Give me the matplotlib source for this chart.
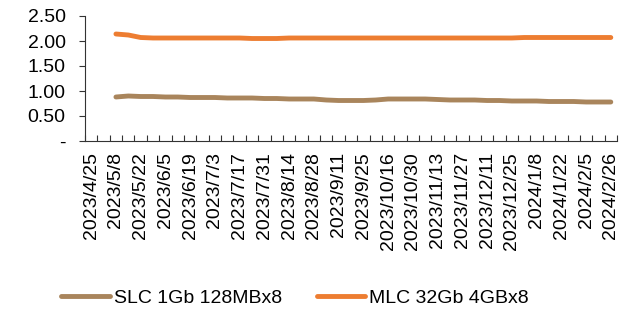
import numpy as np
import matplotlib.pyplot as plt
from matplotlib.ticker import FixedLocator, FuncFormatter

plt.rcParams['font.family'] = ['Liberation Sans', 'DejaVu Sans']

dates = ["2023/4/25", "2023/5/1", "2023/5/8", "2023/5/15", "2023/5/22", "2023/5/29",
         "2023/6/5", "2023/6/12", "2023/6/19", "2023/6/26", "2023/7/3", "2023/7/10",
         "2023/7/17", "2023/7/24", "2023/7/31", "2023/8/7", "2023/8/14", "2023/8/21",
         "2023/8/28", "2023/9/4", "2023/9/11", "2023/9/18", "2023/9/25", "2023/10/9",
         "2023/10/16", "2023/10/23", "2023/10/30", "2023/11/6", "2023/11/13", "2023/11/20",
         "2023/11/27", "2023/12/4", "2023/12/11", "2023/12/18", "2023/12/25", "2024/1/1",
         "2024/1/8", "2024/1/15", "2024/1/22", "2024/1/29", "2024/2/5", "2024/2/19",
         "2024/2/26"]

slc = [np.nan, np.nan,
       0.88, 0.90, 0.89, 0.89, 0.88, 0.88, 0.87, 0.87, 0.87, 0.86, 0.86, 0.86,
       0.85, 0.85, 0.84, 0.84, 0.84, 0.82, 0.81, 0.81, 0.81, 0.82, 0.84, 0.84,
       0.84, 0.84, 0.83, 0.82, 0.82, 0.82, 0.81, 0.81, 0.80, 0.80, 0.80, 0.79,
       0.79, 0.79, 0.78, 0.78, 0.78]

mlc = [np.nan, np.nan,
       2.14, 2.12, 2.07, 2.06, 2.06, 2.06, 2.06, 2.06, 2.06, 2.06, 2.06, 2.05,
       2.05, 2.05, 2.06, 2.06, 2.06, 2.06, 2.06, 2.06, 2.06, 2.06, 2.06, 2.06,
       2.06, 2.06, 2.06, 2.06, 2.06, 2.06, 2.06, 2.06, 2.06, 2.07, 2.07, 2.07,
       2.07, 2.07, 2.07, 2.07, 2.07]

labels = ["SLC 1Gb 128MBx8", "MLC 32Gb 4GBx8"]
colors = ["#A9855C", "#ED7D31"]

x = np.arange(len(dates))

fig = plt.figure(figsize=(6.34, 3.10), dpi=100)
ax = fig.add_axes([85 / 634, 169 / 310, 532 / 634, 125 / 310])

for vals, lab, col in zip([slc, mlc], labels, colors):
    ax.plot(x, vals, color=col, linewidth=3.5, solid_capstyle='round',
            solid_joinstyle='round', label=lab)

ax.set_xlim(-0.5, len(dates) - 0.5)
ax.set_ylim(0, 2.5)

ax.spines['top'].set_visible(False)
ax.spines['right'].set_visible(False)
ax.spines['left'].set_color('#333333')
ax.spines['bottom'].set_color('#333333')

ax.set_yticks([0, 0.5, 1.0, 1.5, 2.0, 2.5])
ax.yaxis.set_major_formatter(FuncFormatter(lambda v, p: '-' if v == 0 else f"{v:.2f}"))
ax.tick_params(axis='y', direction='out', length=4, color='#333333', labelsize=14, pad=10)

# week boundaries as ticks, labels every other category
ax.xaxis.set_major_locator(FixedLocator(np.arange(len(dates) + 1) - 0.5))
ax.xaxis.set_major_formatter(FuncFormatter(lambda v, p: ''))
ax.xaxis.set_minor_locator(FixedLocator(x[::2]))
ax.set_xticklabels([dates[i] for i in x[::2]], minor=True, rotation=90)
ax.tick_params(axis='x', which='major', direction='in', length=4, color='#333333')
ax.tick_params(axis='x', which='minor', length=0, labelsize=14, pad=8)

fig.legend(loc='center', bbox_to_anchor=(295 / 634, 12 / 310), ncol=2, frameon=False,
           fontsize=14, handlelength=2.5, handletextpad=0.2, columnspacing=1.8)

plt.savefig("out.png", dpi=100)
